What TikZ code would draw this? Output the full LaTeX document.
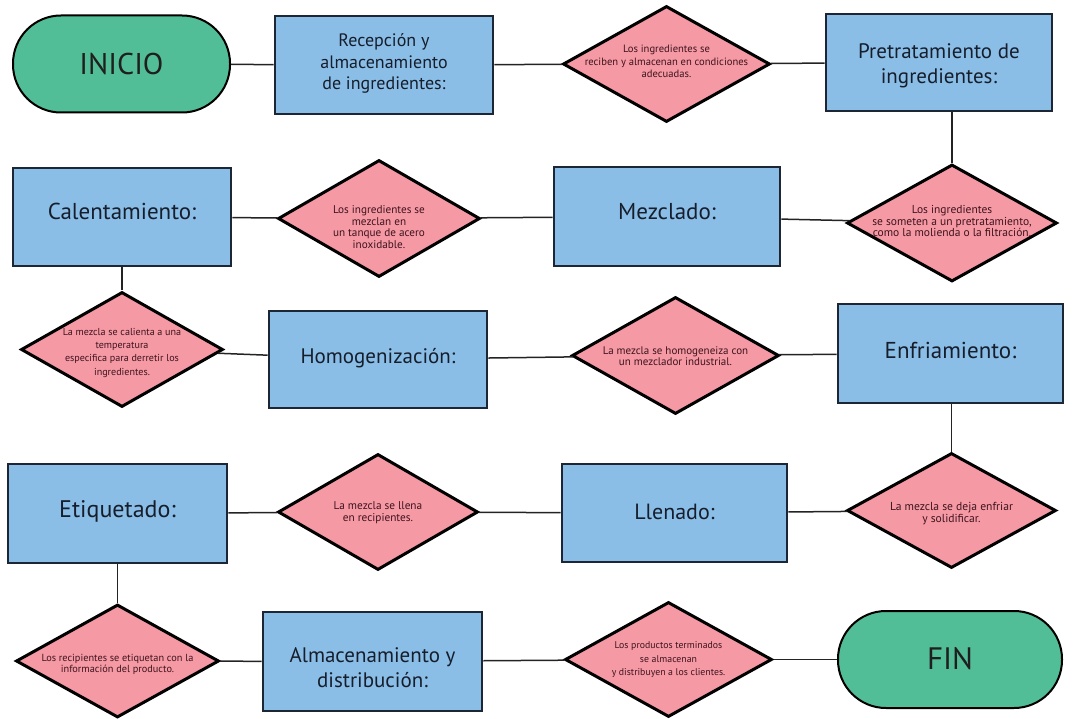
\documentclass[tikz,border=0pt]{standalone}
\usepackage{fontspec}
\setmainfont{PT Sans}
\usetikzlibrary{shapes.geometric}
\definecolor{termfill}{RGB}{82,190,151}
\definecolor{procfill}{RGB}{139,190,231}
\definecolor{decfill}{RGB}{245,153,165}
\definecolor{procline}{RGB}{28,38,52}
\definecolor{proctext}{RGB}{22,30,44}
\definecolor{dectext}{RGB}{62,20,28}
\definecolor{wire}{RGB}{35,35,35}
% zero-size centred text block; #1 = downward offset
\newcommand{\ztext}[2][0pt]{\makebox[0pt]{\raisebox{\dimexpr -0.25em - #1\relax}[0pt][0pt]{\begin{tabular}{@{}c@{}}#2\end{tabular}}}}
\newcommand{\fs}[2]{\fontsize{#1}{#2}\selectfont}
\tikzset{
  term/.style={rectangle, rounded corners=48pt, draw=black, line width=2pt, fill=termfill,
    minimum width=217pt, minimum height=97pt, inner sep=0pt, text=black!88},
  proc/.style={rectangle, draw=procline, line width=2.6pt, fill=procfill,
    minimum width=218pt, minimum height=98pt, inner sep=0pt, text=proctext},
  dec/.style={diamond, draw=black, line width=3pt, fill=decfill,
    minimum width=205pt, minimum height=116pt, inner sep=0pt, text=dectext},
  wireline/.style={draw=wire, line width=1.5pt}
}
\begin{document}
\begin{tikzpicture}[x=1pt,y=-1pt]
\useasboundingbox (0,0) rectangle (1082,719);
% row 1
\node[term, font=\fs{30}{34}] (ini) at (121.5,64) {\ztext[2.5pt]{INICIO}};
\node[proc, font=\fs{18}{21.5}] (rec) at (384,65) {\ztext[-1pt]{Recepción y\\almacenamiento\\de ingredientes:}};
\node[dec, minimum width=207pt, font=\fs{10.6}{12.5}] (d1) at (666.5,64) {\ztext[-1pt]{Los ingredientes se\\reciben y almacenan en condiciones\\adecuadas.}};
\node[proc, minimum width=226pt, minimum height=97pt, font=\fs{21}{25}] (pre) at (939,62.5) {\ztext[3pt]{Pretratamiento de\\ingredientes:}};
% row 2
\node[proc, font=\fs{23}{26}] (cal) at (122,217) {\ztext[-2pt]{Calentamiento:}};
\node[dec, minimum width=202pt, minimum height=117pt, font=\fs{11.2}{11.5}] (d2) at (379,218.5) {\ztext[10pt]{Los ingredientes se\\mezclan en\\un tanque de acero\\inoxidable.}};
\node[proc, minimum width=226pt, minimum height=99pt, font=\fs{23}{26}] (mez) at (667,216.5) {\ztext[-1.5pt]{Mezclado:}};
\node[dec, minimum width=210pt, minimum height=117pt, font=\fs{11.5}{11}] (d3) at (952,223) {\ztext[0pt]{Los ingredientes\\se someten a un pretratamiento,\\como la molienda o la filtración.}};
% row 3
\node[dec, minimum width=202pt, minimum height=115pt, font=\fs{10.1}{13.3}] (d4) at (122,349.5) {\ztext[3pt]{La mezcla se calienta a una\\temperatura\\especifica para derretir los\\ingredientes.}};
\node[proc, minimum height=97pt, font=\fs{21}{25}] (hom) at (378,359.5) {\ztext[-1pt]{Homogenización:}};
\node[dec, minimum width=207pt, minimum height=117pt, font=\fs{11}{11.2}] (d5) at (675.5,355.5) {\ztext[2pt]{La mezcla se homogeneiza con\\un mezclador industrial.}};
\node[proc, minimum width=225pt, minimum height=99pt, font=\fs{23}{26}] (enf) at (950.5,353.5) {\ztext[0pt]{Enfriamiento:}};
% row 4
\node[proc, minimum width=219pt, minimum height=99pt, font=\fs{24}{27}] (eti) at (117.5,513.5) {\ztext[-1.5pt]{Etiquetado:}};
\node[dec, minimum width=200pt, minimum height=116pt, font=\fs{11.3}{12}] (d7) at (378,512) {\ztext[1pt]{La mezcla se llena\\en recipientes.}};
\node[proc, minimum width=225pt, minimum height=98pt, font=\fs{22}{25}] (lle) at (674.5,513) {\ztext[1pt]{Llenado:}};
\node[dec, minimum width=209pt, minimum height=115pt, font=\fs{11.6}{12}] (d6) at (951.5,510.5) {\ztext[4pt]{La mezcla se deja enfriar\\y solidificar.}};
% row 5
\node[dec, minimum width=203pt, minimum height=113pt, font=\fs{10.3}{11}] (d8) at (117.5,661) {\ztext[4pt]{Los recipientes se etiquetan con la\\información del producto.}};
\node[proc, minimum width=219pt, minimum height=99pt, font=\fs{21}{25}] (alm) at (372.5,661.5) {\ztext[8pt]{Almacenamiento y\\distribución:}};
\node[dec, minimum width=207pt, minimum height=115pt, font=\fs{9.8}{13.3}] (d9) at (668.5,659.5) {\ztext[0pt]{Los productos terminados\\se almacenan\\y distribuyen a los clientes.}};
\node[term, minimum width=224pt, font=\fs{31}{35}] (fin) at (950,659.5) {\ztext[1.5pt]{FIN}};
% connectors
\draw[wireline] (ini) -- (rec);
\draw[wireline] (rec) -- (d1);
\draw[wireline] (d1) -- (pre);
\draw[wireline] (d3.north |- pre.south) -- (d3.north);
\draw[wireline] (d3) -- (mez);
\draw[wireline] (mez) -- (d2);
\draw[wireline] (d2) -- (cal);
\draw[wireline] (cal.south) -- (d4.north);
\draw[wireline] (d4) -- (hom);
\draw[wireline] (hom) -- (d5);
\draw[wireline] (d5) -- (enf);
\draw[wireline] (d6.north |- enf.south) -- (d6.north);
\draw[wireline] (d6) -- (lle);
\draw[wireline] (lle) -- (d7);
\draw[wireline] (d7) -- (eti);
\draw[wireline] (eti.south) -- (d8.north);
\draw[wireline] (d8) -- (alm);
\draw[wireline] (alm) -- (d9);
\draw[wireline] (d9) -- (fin);
\end{tikzpicture}
\end{document}
